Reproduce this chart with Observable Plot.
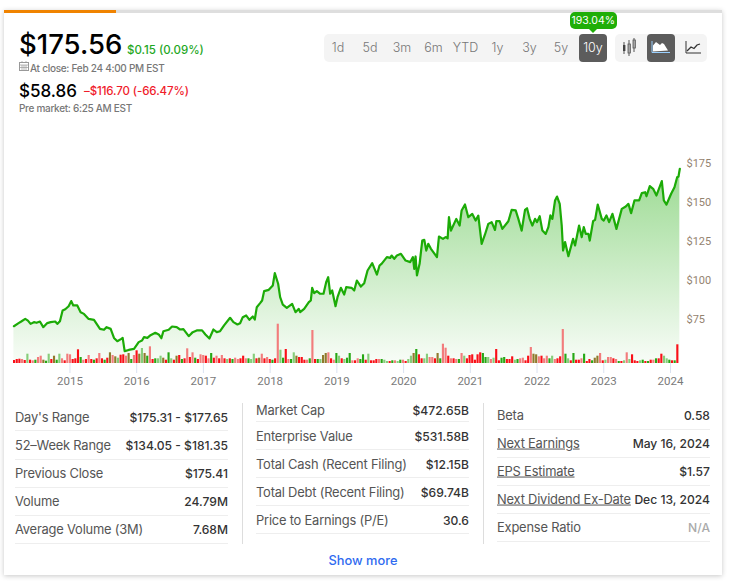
<!DOCTYPE html>
<html>
<head>
<meta charset="utf-8">
<script src="https://cdn.jsdelivr.net/npm/d3@7"></script>
<script src="https://cdn.jsdelivr.net/npm/@observablehq/plot@0.6"></script>
<style>
html,body{margin:0;padding:0;background:#fff;}
body{width:732px;height:587px;overflow:hidden;position:relative;font-family:"Inter",sans-serif;}
.t{position:absolute;white-space:nowrap;line-height:1;}
.box{position:absolute;}
#chart{position:absolute;left:0;top:130px;}
#chart svg{display:block;background:transparent;}
</style>
</head>
<body>
<div class="box" style="left:4px;top:10px;width:718px;height:565px;background:#fff;box-shadow:0 1px 5px rgba(0,0,0,.22);"></div>
<div class="box" style="left:4px;top:10px;width:718px;height:3px;background:#dedede;"></div>
<div class="box" style="left:4px;top:10px;width:112px;height:3px;background:#f08300;"></div>
<div id="chart"></div>
<div id="ui"></div>
<script>
const lineYears = [2014.16,2014.23,2014.27,2014.33,2014.37,2014.41,2014.46,2014.50,2014.55,2014.60,2014.66,2014.71,2014.78,2014.81,2014.85,2014.89,2014.93,2014.98,2015.02,2015.05,2015.11,2015.16,2015.21,2015.28,2015.36,2015.45,2015.51,2015.55,2015.61,2015.66,2015.71,2015.77,2015.79,2015.82,2015.88,2015.96,2016.03,2016.08,2016.11,2016.16,2016.20,2016.28,2016.33,2016.37,2016.40,2016.48,2016.53,2016.60,2016.65,2016.70,2016.78,2016.84,2016.90,2016.98,2017.03,2017.09,2017.15,2017.20,2017.25,2017.31,2017.40,2017.45,2017.51,2017.55,2017.59,2017.64,2017.69,2017.74,2017.77,2017.80,2017.85,2017.88,2017.91,2017.98,2018.04,2018.07,2018.12,2018.15,2018.19,2018.25,2018.33,2018.38,2018.43,2018.45,2018.51,2018.58,2018.61,2018.63,2018.66,2018.70,2018.75,2018.80,2018.84,2018.87,2018.90,2018.93,2018.98,2019.01,2019.06,2019.11,2019.14,2019.22,2019.26,2019.30,2019.36,2019.41,2019.46,2019.53,2019.60,2019.64,2019.67,2019.75,2019.80,2019.82,2019.86,2019.90,2019.96,2020.03,2020.10,2020.14,2020.16,2020.18,2020.20,2020.24,2020.28,2020.31,2020.34,2020.37,2020.41,2020.50,2020.53,2020.59,2020.63,2020.66,2020.68,2020.71,2020.79,2020.84,2020.87,2020.92,2020.97,2021.03,2021.08,2021.12,2021.17,2021.22,2021.27,2021.32,2021.37,2021.39,2021.44,2021.48,2021.57,2021.62,2021.68,2021.72,2021.77,2021.82,2021.85,2021.89,2021.93,2021.97,2022.00,2022.04,2022.08,2022.13,2022.17,2022.20,2022.23,2022.27,2022.30,2022.34,2022.37,2022.39,2022.42,2022.47,2022.54,2022.57,2022.60,2022.63,2022.67,2022.70,2022.73,2022.77,2022.79,2022.84,2022.87,2022.91,2022.97,2023.00,2023.04,2023.08,2023.13,2023.19,2023.27,2023.33,2023.37,2023.41,2023.46,2023.53,2023.57,2023.62,2023.64,2023.69,2023.74,2023.79,2023.87,2023.90,2023.94,2024.01,2024.06,2024.10,2024.12,2024.14];
const linePrices = [70.7,72.65,73.7,75.4,74.3,72.2,73.3,72.9,73.7,70.1,72.7,73.3,73.7,72.2,73.9,80.8,81.6,83.5,86.8,84.0,84.0,79.7,78.6,75.4,74.8,69.0,68.4,70.1,69.0,63.2,61.1,62.6,63.2,54.7,55.5,56.2,60.5,61.5,63.7,63.2,64.7,66.5,65.4,63.0,67.5,68.4,70.5,70.1,68.6,68.8,64.3,66.9,68.0,68.0,65.4,62.8,68.6,66.9,67.5,71.2,76.1,73.3,71.8,72.6,76.5,77.6,74.8,76.9,75.0,82.9,85.5,87.2,93.2,94.0,96.8,104.7,97.9,89.3,84.6,82.5,85.0,79.7,81.8,79.7,81.8,86.1,87.2,95.3,91.9,93.2,91.5,91.5,98.9,102.1,91.5,93.6,83.5,89.3,95.3,91.0,95.7,95.3,93.6,100.0,96.1,98.3,106.4,111.1,103.8,109.6,110.7,115.0,114.5,116.0,113.9,116.0,117.1,112.8,111.8,115.0,107.5,115.4,103.2,110.7,125.6,126.1,119.2,123.5,120.3,115.0,128.2,126.7,127.8,127.0,140.6,132.0,139.5,135.2,144.9,148.7,140.6,142.7,138.4,141.6,123.5,129.5,136.3,137.4,132.4,138.0,138.0,133.1,138.0,145.3,144.9,139.5,132.0,145.3,146.3,139.5,135.2,139.5,137.4,141.2,132.0,129.9,134.2,141.7,139.5,151.3,153.8,149.1,135.2,119.2,124.6,115.6,126.7,122.4,128.8,135.2,127.8,134.2,129.9,129.9,125.6,138.0,138.9,148.7,139.5,138.4,141.7,137.4,142.7,133.1,145.9,147.4,149.1,143.2,151.3,151.3,156.0,156.6,154.0,160.5,158.8,154.5,163.7,151.3,148.7,155.6,159.8,166.2,166.7,171.6];
const volumeM = [3.9,5.2,5.6,5.2,3.9,12.1,4.3,3.5,4.3,7.8,9.5,4.3,3.0,12.1,5.2,9.5,4.3,12.1,6.1,3.5,12.1,11.3,5.2,6.1,17.8,7.8,4.3,5.2,10.4,5.2,4.3,6.1,13,6.1,4.3,6.9,13.9,10.4,8.7,6.9,10.8,11.3,9.5,13,5.2,10.4,16.5,12.1,19.5,13,9.5,21.7,5.2,6.1,6.1,9.5,6.9,4.3,13.9,6.1,4.3,9.5,10.4,5.2,6.1,19.1,7.8,13.9,6.9,5.2,11.3,10.4,9.5,6.1,13,6.9,9.5,6.1,10.4,6.1,5.2,6.1,5.2,6.9,
5.2,6.1,9.5,6.1,6.1,5.2,12.1,6.1,6.9,12.1,6.1,7.8,5.2,4.3,6.1,51.1,17.3,6.9,18.2,5.2,5.2,13.9,9.5,7.8,7.8,4.3,4.3,6.1,42.9,5.2,5.2,5.2,10.4,13,13.9,6.1,4.3,13,9.5,6.1,5.2,6.9,13,3.5,3.5,6.1,5.2,11.3,4.3,12.1,3.5,3.5,5.2,5.2,5.2,4.3,2.6,2.6,3.5,3.5,2.6,4.3,4.3,2.6,5.2,9.5,13,18.2,11.3,6.1,6.1,12.1,7.8,7.8,6.1,13,6.1,25.1,19.9,9.5,6.1,6.1,5.2,5.2,13,
9.5,6.1,10.4,11.3,4.3,11.3,13.9,13,7.8,7.8,5.2,6.9,18.2,3.5,6.9,7.8,5.2,5.2,8.7,4.3,5.2,6.1,6.9,3.5,9.5,20.8,12.1,11.3,8.7,9.5,6.1,9.5,6.1,9.5,5.2,6.1,8.7,44.2,12.1,6.1,3.5,13,4.3,4.3,6.1,12.1,2.6,5.2,3.5,6.9,9.5,13,3.5,4.3,7.8,7.8,6.1,5.2,2.6,2.6,3.5,13.9,5.2,11.3,3.5,2.6,3.5,4.3,2.6,2.6,4.3,4.3,6.1,6.1,12.1,9.5,6.1,4.3,3.5,3.5,24.3];
const volumeKinds = ("rrrRrGrRg RRbgGrbgGR rRRrrrgRrR rgrRrgrbRb GrrRbgRrbG bgRrgGGbrg GrbrgrRrRg rRRrRgrRrR rGrgR " +
  "RrrRgGGrbR rRrgrRGgrR gGbrrrRgRr gGbbRrRgGr GggRrRggrG rrrRgGGrg RGgRrGGbgr rGGRRrbgRR rRrRgR " +
  "GrrrrrrggG RGrrggrrr GgRRrrRbbR rRRgGRrrRg GrgrrRgrr gbbRrGRRr RgrGRGrrr GgrgrRgrrG Ggrgr").replace(/ /g,"").split("");
const yearTicks = [2015,2016,2017,2018,2019,2020,2021,2022,2023,2024];
const priceTicks = [75,100,125,150,175];
const dayLabels = ["Day's Range","52–Week Range","Previous Close","Volume","Average Volume (3M)"];
const dayValues = ["$175.31 - $177.65","$134.05 - $181.35","$175.41","24.79M","7.68M"];
const valueLabels = ["Market Cap","Enterprise Value","Total Cash (Recent Filing)","Total Debt (Recent Filing)","Price to Earnings (P/E)"];
const valueValues = ["$472.65B","$531.58B","$12.15B","$69.74B","30.6"];
const otherLabels = ["Beta","Next Earnings","EPS Estimate","Next Dividend Ex-Date","Expense Ratio"];
const otherValues = ["0.58","May 16, 2024","$1.57","Dec 13, 2024","N/A"];
const rangeLabels = ["1d","5d","3m","6m","YTD","1y","3y","5y","10y"];

const priceFloor = 46.8, startYear = 2014.154, endYear = 2024.15;
const volToPrice = 0.493, barStep = 0.03992, barWidth = 0.032;
const line = lineYears.map((x,i)=>({x,y:linePrices[i]}));
const bars = volumeM.map((v,i)=>({x1:startYear+i*barStep,x2:startYear+i*barStep+barWidth,y2:priceFloor+v*volToPrice,k:volumeKinds[i]}));

const chart = Plot.plot({
  width:732,height:265,
  marginLeft:13,marginRight:52,marginTop:20,marginBottom:32,
  style:{background:"transparent",fontFamily:"Roboto, sans-serif"},
  x:{type:"linear",domain:[startYear,endYear]},
  y:{domain:[priceFloor,183.33]},
  color:{domain:["r","R","g","G","b"],range:["#fa0f18","#f27c7c","#27a815","#86cd7a","#8f7a2c"]},
  marks:[
    ()=>{const d=d3.create("svg:defs");d.html('<linearGradient id="gr" x1="0" y1="0" x2="0" y2="1"><stop offset="0" stop-color="#1cab07" stop-opacity=".44"/><stop offset="1" stop-color="#1cab07" stop-opacity=".03"/></linearGradient>');return d.node();},
    Plot.axisX({ticks:yearTicks,tickFormat:"d",tickSize:10,tickPadding:3,stroke:"#dbe2f1",color:"#7a7a7a",fontSize:11.5,label:null}),
    Plot.axisY({anchor:"right",ticks:priceTicks,tickFormat:d=>"$"+d,tickSize:0,tickPadding:6,color:"#94836f",fontSize:11,label:null}),
    Plot.areaY(line,{x:"x",y1:priceFloor,y2:"y",fill:"url(#gr)"}),
    Plot.rectY(bars,{x1:"x1",x2:"x2",y1:priceFloor,y2:"y2",fill:"k"}),
    Plot.lineY(line,{x:"x",y:"y",stroke:"#1cab07",strokeWidth:2.2,strokeLinejoin:"round"})
  ]
});
document.getElementById("chart").append(chart);

const ui = document.getElementById("ui");
function text(s,x,y,size,color,opt={}){
  const e=document.createElement("div");e.className="t";e.textContent=s;
  e.style.top=y+"px";e.style.fontSize=size+"px";e.style.color=color;
  e.style.transform="translateY(-50%)"+(opt.center?" translateX(-50%)":"");
  if(opt.right){e.style.right=(732-x)+"px";}else{e.style.left=x+"px";}
  if(opt.weight)e.style.fontWeight=opt.weight;
  if(opt.under)e.style.textDecoration="underline";
  if(opt.ls)e.style.letterSpacing=opt.ls+"px";
  ui.append(e);return e;
}
function box(x,y,w,h,bg,r){const e=document.createElement("div");e.className="box";e.style.cssText+=`left:${x}px;top:${y}px;width:${w}px;height:${h}px;background:${bg};border-radius:${r||0}px;`;ui.append(e);return e;}

text("$175.56",19,45,27.5,"#000",{weight:500});
text("$0.15 (0.09%)",127,51,11.5,"#1fa81f",{weight:500});
text("At close: Feb 24 4:00 PM EST",30,67.5,10,"#777",{weight:500,ls:-.27});
text("$58.86",19,90.5,17,"#000",{weight:500});
text("–$116.70 (-66.47%)",84,92,11.5,"#f01c2c",{weight:500,ls:-.1});
text("Pre market: 6:25 AM EST",19,107.5,10,"#777",{weight:500,ls:-.3});
const cal=document.createElementNS("http://www.w3.org/2000/svg","svg");
cal.setAttribute("width",10);cal.setAttribute("height",10);cal.style.cssText="position:absolute;left:19px;top:61px";
cal.innerHTML='<rect x=".5" y="1.5" width="9" height="8" fill="none" stroke="#999"/><path d="M.5 4h9M3 4v5M5 4v5M7 4v5M.5 6.5h9M3 0v2M7 0v2" stroke="#999" stroke-width=".7"/>';
ui.append(cal);

box(324,34,283,28,"#f4f4f4",5);
box(615,34,92,28,"#f4f4f4",5);
box(579,34,28,28,"#5c5c5c",4);
box(647,34,28,28,"#5c5c5c",4);
const centers=[338,370,402,433.5,465.5,497.5,529.5,561,593];
rangeLabels.forEach((s,i)=>text(s,centers[i],48,12.5,i===8?"#fff":"#777",{center:true,weight:300}));
box(569.5,12,47.5,17,"#1fae07",5);
text("193.04%",593.3,20.5,10.5,"#fff",{center:true,weight:400});
const icons=document.createElementNS("http://www.w3.org/2000/svg","svg");
icons.setAttribute("width",732);icons.setAttribute("height",70);icons.style.cssText="position:absolute;left:0;top:0;pointer-events:none";
icons.innerHTML=
 '<polygon points="589,29 597,29 593,33" fill="#1fae07"/>'+
 '<path d="M624 42v12M629 40v16M634 38v14" stroke="#555" stroke-width="1"/><rect x="623" y="45" width="2.4" height="6" fill="#444"/><rect x="628" y="44" width="2.4" height="9" fill="none" stroke="#555" stroke-width=".8"/><rect x="633" y="40" width="2.4" height="8" fill="none" stroke="#555" stroke-width=".8"/>'+
 '<path d="M652 41v11.5h18" fill="none" stroke="#9ad0ff" stroke-width="1"/><path d="M653 51.5v-6l3-3.5 4 3 2-2 2 1 4 6.5z" fill="#fff"/>'+
 '<path d="M686 41v12h15" fill="none" stroke="#333" stroke-width="1"/><path d="M687 51l4-4 3 1.500 3-3.500 3-1" fill="none" stroke="#333" stroke-width="1.300"/>';
ui.append(icons);

function column(labels,values,x0,x1,rowY,sepY,under){
  labels.forEach((s,i)=>{
    text(s,x0,rowY[i],12.9,"#555",{under:under.includes(i),ls:-.2});
    text(values[i],x1,rowY[i],12.1,s==="Expense Ratio"?"#aaa":"#333",{right:true,weight:500});
    box(x0,sepY[i],x1-x0,1,"#eee");
  });
}
column(dayLabels,dayValues,15,228,[417.5,445.5,473.5,501.5,529.5],[430,459,487,515,543],[]);
column(valueLabels,valueValues,256,469,[411,437,465,492.5,520.5],[421,449,477,505,533],[]);
column(otherLabels,otherValues,497,710,[415.5,443.5,471.5,499.5,527.5],[429,457,485,513,541],[1,2,3]);
box(242,403,1,141,"#ddd");
box(483,403,1,141,"#ddd");
text("Show more",363,561,12.8,"#2f6bf0",{center:true,weight:500});
</script>
</body>
</html>
